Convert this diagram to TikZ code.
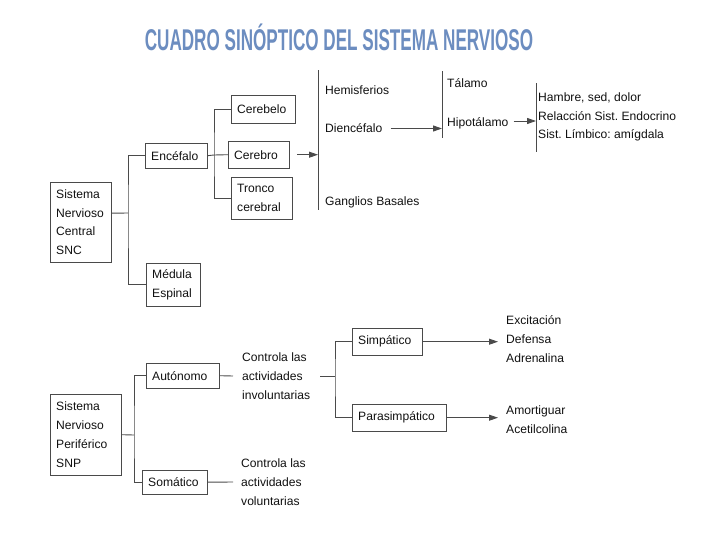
\documentclass[tikz,border=0pt]{standalone}
\usepackage{fontspec}
\setmainfont{Liberation Sans}
\usetikzlibrary{arrows.meta,positioning}
\definecolor{Title}{HTML}{6C8DC0}
\definecolor{Line}{HTML}{4A4A4A}
\definecolor{Ink}{HTML}{111111}
\frenchspacing

\begin{document}
\begin{tikzpicture}[x=1pt,y=-1pt,font=\fontsize{12.1}{18.8}\selectfont,
box/.style={draw=Line,anchor=north west,align=left,inner xsep=6pt,inner ysep=0pt,text=Ink},
txt/.style={anchor=west,align=left,inner sep=0pt,text=Ink},
ln/.style={draw=Line,line width=0.9pt},
arr/.style={ln,-{Triangle[length=9pt,width=6pt]}}]
\fill[white] (0,0) rectangle (728,546);
\useasboundingbox (0,0) rectangle (728,546);
\node[anchor=base,inner sep=0pt,text=Title,font=\fontsize{30}{30}\selectfont\bfseries] (ttl) at (339,50.5)
  {\scalebox{0.57}[1]{CUADRO SINÓPTICO DEL SISTEMA NERVIOSO}};
% sistema nervioso central
\node[box,text width=49pt,minimum height=80pt] (snc) at (50,182) {Sistema\\Nervioso\\Central\\SNC};
\node[box,text width=50pt,minimum height=25pt] (enc) at (145,143) {Encéfalo};
\node[box,text width=42pt,minimum height=43pt] (med) at (146,263) {Médula\\Espinal};
\node[box,text width=52pt,minimum height=28pt] (cbelo) at (231,95) {Cerebelo};
\node[box,text width=49pt,minimum height=27pt] (cbro) at (228,141) {Cerebro};
\node[box,text width=49pt,minimum height=42pt] (tronco) at (231,177) {Tronco\\cerebral};
\node[txt] (hem) at (325,90.5) {Hemisferios};
\node[txt] (dien) at (325,128.5) {Diencéfalo};
\node[txt] (gang) at (325,202) {Ganglios Basales};
\node[txt] (tal) at (447,83.5) {Tálamo};
\node[txt] (hipo) at (447,123) {Hipotálamo};
\node[txt] (hamb) at (538,117) {Hambre, sed, dolor\\Relacción Sist. Endocrino\\Sist. Límbico: amígdala};
\coordinate (j1) at (128,213);
\coordinate (j2) at (214,155);
\coordinate (b1t) at (318,70); \coordinate (b1b) at (318,210);
\coordinate (b2t) at (442,71); \coordinate (b2b) at (442,138);
\coordinate (b3t) at (536,83); \coordinate (b3b) at (536,152);
\draw[ln] ([yshift=9pt]snc.east) -- (j1);
\draw[ln] (enc.west) -| (j1) |- (med.west);
\draw[ln] (enc.east) -- (j2) -- (cbro.west);
\draw[ln] (cbelo.west) -| (j2) |- (tronco.west);
\draw[ln] (b1t) -- (b1b); \draw[ln] (b2t) -- (b2b); \draw[ln] (b3t) -- (b3b);
\draw[arr] ([xshift=8pt]cbro.east) -- (cbro.east -| b1t);
\draw[arr] ([xshift=8pt]dien.east) -- (dien.east -| b2t);
\draw[arr] ([xshift=5pt,yshift=2pt]hipo.east) -- ([yshift=2pt]hipo.east -| b3t);
% sistema nervioso periferico
\node[box,text width=59pt,minimum height=81pt] (snp) at (50,394) {Sistema\\Nervioso\\Periférico\\SNP};
\node[box,text width=61pt,minimum height=25pt] (auto) at (146,363) {Autónomo};
\node[box,text width=53pt,minimum height=24pt] (soma) at (142,470) {Somático};
\node[txt] (invol) at (242,376) {Controla las\\actividades\\involuntarias};
\node[txt] (vol) at (241,482) {Controla las\\actividades\\voluntarias};
\node[box,text width=58pt,minimum height=27pt] (simp) at (352,328) {Simpático};
\node[box,text width=82pt,minimum height=27pt] (para) at (352,404) {Parasimpático};
\node[txt] (efx) at (506,339) {Excitación\\Defensa\\Adrenalina};
\node[txt] (efy) at (506,420) {Amortiguar\\Acetilcolina};
\coordinate (j4) at (134,435);
\coordinate (j3) at (335,376);
\draw[ln] (snp.east) -- (j4);
\draw[ln] (auto.west) -| (j4) |- (soma.west);
\draw[ln] (auto.east) -- ([xshift=-9pt]invol.west);
\draw[ln] (soma.east) -- ([xshift=-8pt]vol.west);
\draw[ln] ([xshift=10pt]invol.east) -- (j3);
\draw[ln] (simp.west) -| (j3) |- (para.west);
\draw[arr,shorten >=8pt] (simp.east) -- (simp.east -| efx.west);
\draw[arr,shorten >=8pt] (para.east) -- (para.east -| efy.west);
\end{tikzpicture}
\end{document}
